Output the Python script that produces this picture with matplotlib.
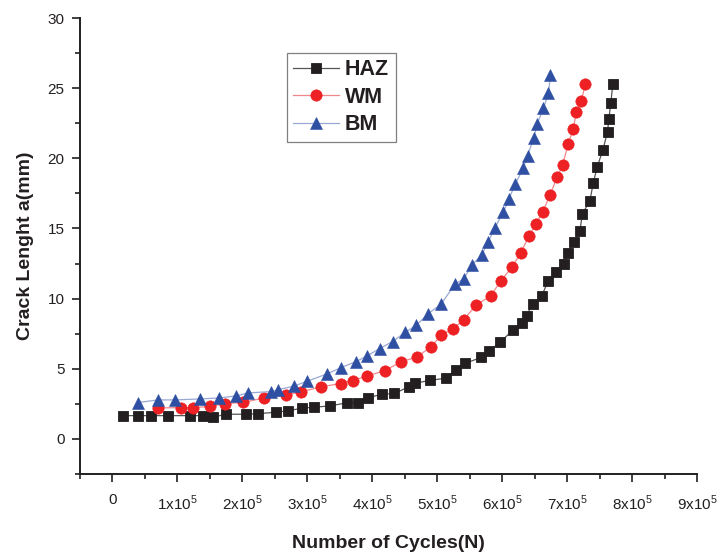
import matplotlib
matplotlib.use("Agg")
import matplotlib.pyplot as plt
from matplotlib.ticker import MultipleLocator, FuncFormatter

plt.rcParams['font.family'] = ['Liberation Sans', 'DejaVu Sans']
plt.rcParams['mathtext.fontset'] = 'custom'
plt.rcParams['mathtext.rm'] = 'Liberation Sans'

# Données (cycles, longueur de fissure en mm)
haz_n = [16900, 39900, 59800, 85900, 119600, 139600, 154900, 174800, 205500, 223900,
         251500, 269900, 291400, 309800, 334400, 360400, 378800, 393700, 415600, 434000,
         457100, 466300, 488200, 513800, 528700, 542900, 567500, 580500, 597100, 616600,
         629900, 637600, 646800, 660600, 671000, 683600, 694800, 701400, 711200, 719800,
         723500, 735100, 740300, 746500, 755100, 762300, 764300, 767300, 770400]
haz_a = [1.66, 1.66, 1.66, 1.66, 1.66, 1.66, 1.55, 1.76, 1.76, 1.80,
         1.90, 2.00, 2.19, 2.26, 2.35, 2.57, 2.59, 2.94, 3.19, 3.24,
         3.73, 3.97, 4.17, 4.33, 4.94, 5.38, 5.81, 6.29, 6.89, 7.77,
         8.25, 8.79, 9.60, 10.17, 11.26, 11.88, 12.47, 13.28, 14.06, 14.85,
         16.04, 16.96, 18.27, 19.41, 20.60, 21.90, 22.83, 23.93, 25.30]

wm_n = [70100, 105800, 124700, 150800, 172500, 201400, 233400, 267200, 289900, 321000,
        351200, 369600, 392200, 419000, 444800, 468300, 489700, 506600, 524100, 541000,
        559400, 582100, 598200, 615000, 628400, 641600, 652300, 662600, 673800, 684500,
        693300, 701400, 709700, 714300, 721900, 728100]
wm_a = [2.21, 2.23, 2.23, 2.32, 2.52, 2.60, 2.92, 3.14, 3.35, 3.71,
        3.95, 4.16, 4.48, 4.87, 5.50, 5.83, 6.54, 7.41, 7.84, 8.50,
        9.53, 10.19, 11.28, 12.24, 13.24, 14.49, 15.35, 16.20, 17.39, 18.65,
        19.53, 21.01, 22.12, 23.33, 24.09, 25.30]

bm_n = [38800, 70100, 96200, 135300, 164100, 190200, 209400, 243900, 255400, 279100,
        300200, 330200, 351200, 375000, 392200, 411300, 431400, 450500, 467500, 485900,
        506400, 526800, 540600, 554100, 568600, 578500, 589000, 601700, 610700, 619900,
        632400, 639100, 648500, 654100, 663600, 671300, 674400]
bm_a = [2.59, 2.78, 2.78, 2.85, 2.92, 3.06, 3.28, 3.37, 3.51, 3.76,
        4.12, 4.63, 5.07, 5.51, 5.92, 6.44, 6.94, 7.59, 8.09, 8.92,
        9.62, 11.01, 11.40, 12.42, 13.11, 14.04, 15.06, 16.17, 17.13, 18.14,
        19.29, 20.19, 21.43, 22.47, 23.57, 24.64, 25.94]

x_ticks = [0, 1e5, 2e5, 3e5, 4e5, 5e5, 6e5, 7e5, 8e5, 9e5]


def fmt_cycles(v, pos):
    k = int(round(v / 1e5))
    if k == 0:
        return '0'
    return r'%dx10$^{\mathregular{5}}$' % k


fig = plt.figure(figsize=(7.2, 5.54), dpi=100)
ax = fig.add_axes([80 / 720, 1 - 474 / 554, 617 / 720, 456 / 554])

ax.plot(haz_n, haz_a, color='#555555', lw=0.9, marker='s', ms=7.2,
        mfc='#231f20', mec='#231f20', mew=0.6, label='HAZ')
ax.plot(wm_n, wm_a, color='#f2878a', lw=0.9, marker='o', ms=8.2,
        mfc='#ed2024', mec='#ed2024', mew=0.4, label='WM')
ax.plot(bm_n, bm_a, color='#9aa8d4', lw=0.9, marker='^', ms=8.8,
        mfc='#2e4fa2', mec='#2e4fa2', mew=0.4, label='BM')

ax.set_xlim(-0.5e5, 9e5)
ax.set_ylim(-2.5, 30)
ax.set_xticks(x_ticks)
ax.xaxis.set_major_formatter(FuncFormatter(fmt_cycles))
ax.set_xticks([v + 0.5e5 for v in x_ticks[:-1]] + [-0.5e5], minor=True)
ax.yaxis.set_major_locator(MultipleLocator(5))
ax.yaxis.set_minor_locator(MultipleLocator(2.5))

for s in ['top', 'right']:
    ax.spines[s].set_visible(False)
for s in ['left', 'bottom']:
    ax.spines[s].set_linewidth(1.4)
    ax.spines[s].set_color('#231f20')

ax.tick_params(which='major', direction='out', length=6, width=1.2,
               labelsize=11, colors='#231f20', pad=5)
ax.tick_params(axis='x', which='major', pad=8)
ax.tick_params(which='minor', direction='out', length=3.5, width=1.2,
               colors='#231f20')

ax.set_xlabel('Number of Cycles(N)', fontsize=14, fontweight='bold',
              color='#231f20', labelpad=16)
ax.set_ylabel('Crack Lenght a(mm)', fontsize=14, fontweight='bold',
              color='#231f20', labelpad=10)

leg = ax.legend(loc='upper left', bbox_to_anchor=(287 / 720, 1 - 52.7 / 554),
                bbox_transform=fig.transFigure, borderaxespad=0,
                fancybox=False, framealpha=1, edgecolor='#808080',
                prop={'weight': 'bold', 'size': 15.5}, handlelength=2.1,
                labelspacing=0.3, borderpad=0.3, handletextpad=0.3)
leg.get_frame().set_linewidth(0.9)
for t in leg.get_texts():
    t.set_color('#231f20')

fig.savefig('out.png', dpi=100)
